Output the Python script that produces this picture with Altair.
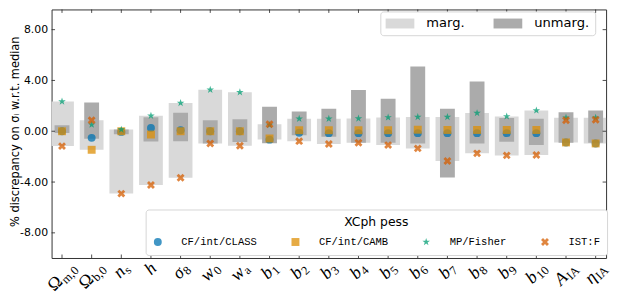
import math
import altair as alt
import pandas as pd

# ---------------- data ----------------
param_main = ["Ω", "Ω", "n", "h", "σ", "w", "w", "b", "b", "b", "b", "b", "b", "b", "b", "b", "b", "A", "η"]
param_sub = ["m,0", "b,0", "s", "", "8", "0", "a", "1", "2", "3", "4", "5", "6", "7", "8", "9", "10", "IA", "IA"]

methods = ["CF/int/CLASS", "CF/int/CAMB", "MP/Fisher", "IST:F"]
cf_class = [0.0, -0.52, -0.05, 0.26, 0.08, 0.0, 0.0, -0.66, -0.12, -0.15, -0.15, -0.15, -0.15, -0.15, -0.15, -0.15, -0.15, -0.88, -0.96]
cf_camb = [0.0, -1.46, 0.0, -0.26, 0.0, 0.0, 0.0, -0.57, 0.08, 0.08, 0.08, 0.08, 0.12, 0.1, 0.1, 0.1, 0.1, -0.88, -0.96]
mp_fisher = [2.34, 0.52, 0.13, 1.22, 2.23, 3.27, 3.07, 0.5, 0.99, 0.99, 1.01, 1.09, 1.12, 1.12, 1.43, 1.17, 1.64, 1.07, 1.07]
ist_f = [-1.17, 0.86, -4.91, -4.23, -3.66, -0.96, -1.14, 0.55, -0.78, -1.01, -0.91, -1.09, -1.35, -2.34, -1.74, -1.9, -1.87, 0.86, 0.91]

bar_kinds = ["marg.", "unmarg."]
marg_low = [-1.17, -1.46, -4.91, -4.23, -3.66, -0.96, -1.14, -0.65, -0.78, -1.01, -0.91, -1.09, -1.35, -2.34, -1.74, -1.9, -1.87, -0.88, -0.96]
marg_high = [2.34, 0.86, 0.13, 1.22, 2.23, 3.27, 3.07, 0.55, 0.99, 0.99, 1.01, 1.09, 1.12, 1.12, 1.43, 1.17, 1.64, 1.07, 1.07]
unmarg_low = [-0.13, -0.6, -0.23, -0.8, -0.78, -0.96, -0.85, -0.94, -0.31, -0.44, -0.91, -0.91, -0.96, -3.64, -0.96, -0.83, -1.09, -0.91, -0.91]
unmarg_high = [0.47, 2.26, 0.13, 1.1, 1.46, 0.86, 0.94, 1.92, 1.56, 1.77, 3.25, 2.55, 5.1, 1.77, 3.92, 1.04, 0.99, 1.5, 1.64]

y_ticks = [-8, -4, 0, 4, 8]

# ---------------- layout ----------------
LEFT = 44          # plot left edge = 8 + LEFT in the page
W, H = 560, 251
XDOM = [-0.185, 18.185]
YDOM = [-9.98, 9.59]
xr = XDOM[1] - XDOM[0]
yr = YDOM[1] - YDOM[0]
px_x = W / xr
px_y = H / yr

xscale = alt.Scale(domain=XDOM, nice=False, zero=False)
yscale = alt.Scale(domain=YDOM, nice=False, zero=False)

yaxis = alt.Axis(
    values=y_ticks,
    labelExpr="(datum.value < 0 ? '-' : '') + format(abs(datum.value), '.2f')",
    labelFont="DejaVu Sans", labelFontSize=11, labelColor="black", labelPadding=4,
    ticks=False, domain=False, grid=False,
    title="% discrepancy on σᵢ w.r.t. median",
    titleFont="DejaVu Sans", titleFontSize=11.5, titleFontWeight="normal", titleColor="black",
    titleAngle=270, titleX=-(LEFT + 8) + 15.5, titleY=123, titleAlign="center", titleBaseline="middle",
)

n = len(param_main)
idx = list(range(n))

# bars
bars_df = pd.DataFrame({
    "i": idx * 2,
    "lo": marg_low + unmarg_low,
    "hi": marg_high + unmarg_high,
    "kind": [bar_kinds[0]] * n + [bar_kinds[1]] * n,
})

rect_path = "M-2.9,-1H2.9V1H-2.9Z"
bar_legend = alt.Legend(
    title=None, orient="none", legendX=384 - 8 - LEFT, legendY=2, direction="horizontal",
    symbolType=rect_path, symbolSize=100, symbolStrokeWidth=0, symbolOffset=7.75,
    labelFont="DejaVu Sans", labelFontSize=13.2, labelColor="black", labelOffset=20,
    columnPadding=28, padding=5.5, fillColor="white", strokeColor="#d6d6d6", cornerRadius=3,
)
fill_enc = alt.Fill("kind:N", scale=alt.Scale(domain=bar_kinds, range=["#d9d9d9", "#ababab"]), legend=bar_legend)

base_bars = alt.Chart(bars_df)
light = base_bars.transform_filter(alt.datum.kind == bar_kinds[0]).mark_bar(size=24, clip=True).encode(
    x=alt.X("i:Q", scale=xscale, axis=None),
    y=alt.Y("lo:Q", scale=yscale, axis=yaxis),
    y2="hi:Q",
    fill=fill_enc,
)
dark = base_bars.transform_filter(alt.datum.kind == bar_kinds[1]).mark_bar(size=15, clip=True).encode(
    x=alt.X("i:Q", scale=xscale, axis=None),
    y=alt.Y("lo:Q", scale=yscale, axis=yaxis),
    y2="hi:Q",
    fill=fill_enc,
)

# points
rows = []
for m, vals in zip(methods, [cf_class, cf_camb, mp_fisher, ist_f]):
    for i, v in zip(idx, vals):
        rows.append({"i": i, "v": v, "method": m})
pts_df = pd.DataFrame(rows)

star = []
for k in range(10):
    r = 1.0 if k % 2 == 0 else 0.382
    a = math.radians(-90 + 36 * k)
    star.append(f"{r * math.cos(a):.3f},{r * math.sin(a):.3f}")
star_path = "M" + "L".join(star) + "Z"
xf = [(-0.5, -1), (0, -0.5), (0.5, -1), (1, -0.5), (0.5, 0), (1, 0.5), (0.5, 1), (0, 0.5), (-0.5, 1), (-1, 0.5), (-0.5, 0), (-1, -0.5)]
x_path = "M" + "L".join(f"{a},{b}" for a, b in xf) + "Z"

pt_legend = alt.Legend(
    title="XCph pess", orient="none", legendX=147 - 8 - LEFT, legendY=202, direction="horizontal",
    titleAnchor="middle", titleFont="DejaVu Sans", titleFontSize=12.5, titleFontWeight="normal",
    titleColor="black", titlePadding=8,
    labelFont="Liberation Mono", labelFontSize=10.6, labelColor="black", labelOffset=18.4, labelLimit=300,
    symbolSize=64, symbolOpacity=0.75, symbolStrokeWidth=0,
    columnPadding=33, padding=7, fillColor="white", strokeColor="#d6d6d6", cornerRadius=3,
)
points = alt.Chart(pts_df).mark_point(filled=True, size=64, opacity=0.75, strokeWidth=0).encode(
    x=alt.X("i:Q", scale=xscale, axis=None),
    y=alt.Y("v:Q", scale=yscale, axis=yaxis),
    color=alt.Color("method:N", scale=alt.Scale(domain=methods, range=["#0173b2", "#de8f05", "#029e73", "#d55e00"]), legend=pt_legend),
    shape=alt.Shape("method:N", scale=alt.Scale(domain=methods, range=["circle", "square", star_path, x_path]), legend=pt_legend),
    order=alt.Order("ord:Q"),
).transform_calculate(ord="indexof(%s, datum.method)" % str(methods))

# inward ticks
tick_df = pd.DataFrame({"i": idx})
ytick_df = pd.DataFrame({"t": y_ticks})
tick_col = "#222222"
xt_top = alt.Chart(tick_df).mark_rule(color=tick_col, strokeWidth=0.8).encode(
    x=alt.X("i:Q", scale=xscale, axis=None), y=alt.value(0), y2=alt.value(3.5))
xt_bot = alt.Chart(tick_df).mark_rule(color=tick_col, strokeWidth=0.8).encode(
    x=alt.X("i:Q", scale=xscale, axis=None), y=alt.value(H - 3.5), y2=alt.value(H))
yt_left = alt.Chart(ytick_df).mark_rule(color=tick_col, strokeWidth=0.8).encode(
    y=alt.Y("t:Q", scale=yscale, axis=yaxis), x=alt.value(0), x2=alt.value(3.5))
yt_right = alt.Chart(ytick_df).mark_rule(color=tick_col, strokeWidth=0.8).encode(
    y=alt.Y("t:Q", scale=yscale, axis=yaxis), x=alt.value(W - 3.5), x2=alt.value(W))

# rotated x tick labels (main symbol + subscript)
cw_it = {"n": 0.5, "h": 0.5, "w": 0.667, "b": 0.5, "A": 0.611, "σ": 0.55, "η": 0.5}
cw_up = {"Ω": 0.768, "m": 0.778, ",": 0.25, "b": 0.5, "s": 0.389, "a": 0.444, "I": 0.333, "A": 0.722}
MAIN_FS, SUB_FS = 18, 12.5


def est_w(s, fs, table):
    return sum(table.get(c, 0.5) for c in s) * fs


lab_rows = []
d = math.sqrt(0.5)
for i, (m, s) in enumerate(zip(param_main, param_sub)):
    wm = est_w(m, MAIN_FS, cw_it if m in cw_it else cw_up)
    ws = est_w(s, SUB_FS, cw_up)
    L = wm + ws
    hgt = 14
    tick_px = (i - XDOM[0]) * px_x
    cx = tick_px
    cy = H + 3 + (L + hgt) * d / 2
    t = wm - L / 2
    ax = cx + t * d
    ay = cy - t * d
    lab_rows.append({
        "lx": XDOM[0] + ax / px_x,
        "ly": YDOM[1] - ay / px_y,
        "main": m, "sub": s,
        "upright": m in ("Ω",),
    })
lab_df = pd.DataFrame(lab_rows)

lab_base = alt.Chart(lab_df).encode(
    x=alt.X("lx:Q", scale=xscale, axis=None),
    y=alt.Y("ly:Q", scale=yscale, axis=yaxis),
)
main_it = lab_base.transform_filter("!datum.upright").mark_text(
    angle=315, align="right", baseline="middle", font="Liberation Serif", fontStyle="italic",
    fontSize=MAIN_FS, color="black").encode(text="main:N")
main_up = lab_base.transform_filter("datum.upright").mark_text(
    angle=315, align="right", baseline="middle", font="Liberation Serif",
    fontSize=MAIN_FS, color="black").encode(text="main:N")
sub_txt = lab_base.mark_text(
    angle=315, align="left", baseline="middle", dx=0.5, dy=4, font="Liberation Serif",
    fontSize=SUB_FS, color="black").encode(text="sub:N")

chart = alt.layer(
    light, dark, points, xt_top, xt_bot, yt_left, yt_right, main_it, main_up, sub_txt
).properties(
    width=W, height=H,
    autosize=alt.AutoSizeParams(type="none"),
    padding={"left": LEFT, "top": 0, "right": 9, "bottom": 46},
    background="white",
).configure_view(stroke="#333333", strokeWidth=1)

chart.save("out.html", embed_options={"renderer": "svg", "actions": False})
